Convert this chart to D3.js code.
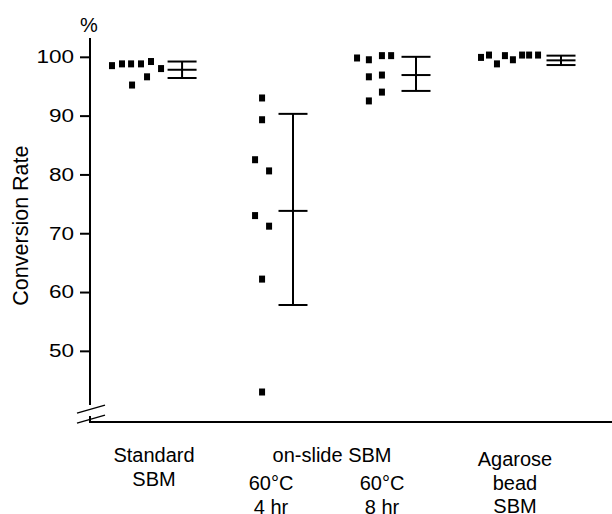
<!DOCTYPE html>
<html>
<head>
<meta charset="utf-8">
<script src="https://cdn.jsdelivr.net/npm/d3@7"></script>
<style>
  body { margin: 0; background: #fff; }
  svg text { font-family: "Liberation Sans", Arial, Helvetica, sans-serif; fill: #000; }
</style>
</head>
<body>
<div id="chart"></div>
<script>
// groups, left to right
var groupLabels = [
  ["Standard", "SBM"],
  ["60°C", "4 hr"],
  ["60°C", "8 hr"],
  ["Agarose", "bead", "SBM"]
];

// conversion rate of each sample (%)
var standardValues = [98.5, 98.8, 98.8, 95.2, 98.8, 96.6, 99.2, 98.0];
var slide4hValues  = [93.0, 89.3, 82.5, 80.6, 73.0, 71.2, 62.2, 43.0];
var slide8hValues  = [99.8, 99.5, 100.2, 100.2, 96.6, 96.9, 94.0, 92.5];
var agaroseValues  = [99.9, 100.3, 98.8, 100.2, 99.5, 100.3, 100.3, 100.3];

// column of each sample within its group (x units)
var standardCols = [4.55, 6.62, 8.5, 8.7, 10.55, 11.8, 12.62, 14.7];
var slide4hCols  = [35.6, 35.6, 34.15, 37.05, 34.15, 37.05, 35.6, 35.6];
var slide8hCols  = [55.25, 57.7, 60.4, 62.3, 57.7, 60.4, 60.4, 57.7];
var agaroseCols  = [80.9, 82.55, 84.2, 85.85, 87.5, 89.4, 90.85, 92.7];

// error bars: mean, low, high, and where they sit
var barMean = [97.8, 73.8, 96.9, 99.4];
var barLow  = [96.4, 57.8, 94.2, 98.6];
var barHigh = [99.2, 90.3, 100.0, 100.2];
var barCol  = [19.05, 42.0, 67.45, 97.45];

var yTicks = [50, 60, 70, 80, 90, 100];

var width = 612, height = 514;
var svg = d3.select('#chart').append('svg')
  .attr('width', width)
  .attr('height', height);

var x = d3.scaleLinear().domain([0, 108]).range([90, 612]);
var y = d3.scaleLinear().domain([37.9, 103.2]).range([422, 38]);

var groups = [
  { values: standardValues, cols: standardCols },
  { values: slide4hValues, cols: slide4hCols },
  { values: slide8hValues, cols: slide8hCols },
  { values: agaroseValues, cols: agaroseCols }
];

// y axis (ticks + labels), domain line drawn by hand for the break
var yAxis = svg.append('g')
  .attr('transform', 'translate(' + x(0) + ',0)')
  .call(d3.axisLeft(y).tickValues(yTicks).tickSize(10).tickPadding(4));
yAxis.select('.domain').remove();
yAxis.selectAll('line').attr('stroke', '#000').attr('stroke-width', 2);
// tick numbers are set wide in the original
yAxis.selectAll('text')
  .style('font-size', '18px')
  .attr('fill', '#000')
  .attr('x', 0)
  .attr('transform', 'translate(-16,0) scale(1.25,1)');

var axisPath = svg.append('g')
  .attr('fill', 'none')
  .attr('stroke', '#000')
  .attr('stroke-width', 2);

var y0 = y.range()[0];
axisPath.append('line')
  .attr('x1', x(0)).attr('x2', x(0))
  .attr('y1', y.range()[1]).attr('y2', y0 - 17);
axisPath.append('polyline')
  .attr('points', [[x(0), y0 - 6], [x(0), y0], [width, y0]].join(' '));

// break marks
[0, 10].forEach(function(d) {
  svg.append('line')
    .attr('x1', x(0) - 13).attr('y1', y0 - 9 + d)
    .attr('x2', x(0) + 15).attr('y2', y0 - 17 + d)
    .attr('stroke', '#000').attr('stroke-width', 1.3);
});

svg.append('text')
  .attr('x', x(0) - 1).attr('y', 32)
  .attr('text-anchor', 'middle')
  .style('font-size', '20px')
  .text('%');

svg.append('text')
  .attr('transform', 'translate(28,' + y(71.3) + ') rotate(-90)')
  .attr('text-anchor', 'middle')
  .style('font-size', '21.5px')
  .text('Conversion Rate');

// sample points
groups.forEach(function(g) {
  svg.append('g').selectAll('rect')
    .data(g.values)
    .enter()
    .append('rect')
    .attr('x', function(d, i) { return x(g.cols[i]) - 3; })
    .attr('y', function(d) { return y(d) - 3.5; })
    .attr('width', 6)
    .attr('height', 7)
    .attr('fill', '#000');
});

// error bars
var bars = svg.append('g')
  .attr('stroke', '#000')
  .attr('stroke-width', 2)
  .selectAll('g')
  .data(barMean)
  .enter()
  .append('g');

bars.append('line')
  .attr('x1', function(d, i) { return x(barCol[i]); })
  .attr('x2', function(d, i) { return x(barCol[i]); })
  .attr('y1', function(d, i) { return y(barLow[i]); })
  .attr('y2', function(d, i) { return y(barHigh[i]); });

[barLow, barMean, barHigh].forEach(function(arr) {
  bars.append('line')
    .attr('x1', function(d, i) { return x(barCol[i] - 3); })
    .attr('x2', function(d, i) { return x(barCol[i] + 3); })
    .attr('y1', function(d, i) { return y(arr[i]); })
    .attr('y2', function(d, i) { return y(arr[i]); });
});

// category labels
var labelX = [154, 271, 382, 515];
var labelTop = [462, 490, 490, 466];
groupLabels.forEach(function(lines, i) {
  var t = svg.append('text')
    .attr('text-anchor', 'middle')
    .style('font-size', '20px');
  lines.forEach(function(s, j) {
    t.append('tspan')
      .attr('x', labelX[i])
      .attr('y', labelTop[i] + j * 23.5)
      .text(s);
  });
});

svg.append('text')
  .attr('x', 332).attr('y', 462)
  .attr('text-anchor', 'middle')
  .style('font-size', '20px')
  .text('on-slide SBM');
</script>
</body>
</html>
